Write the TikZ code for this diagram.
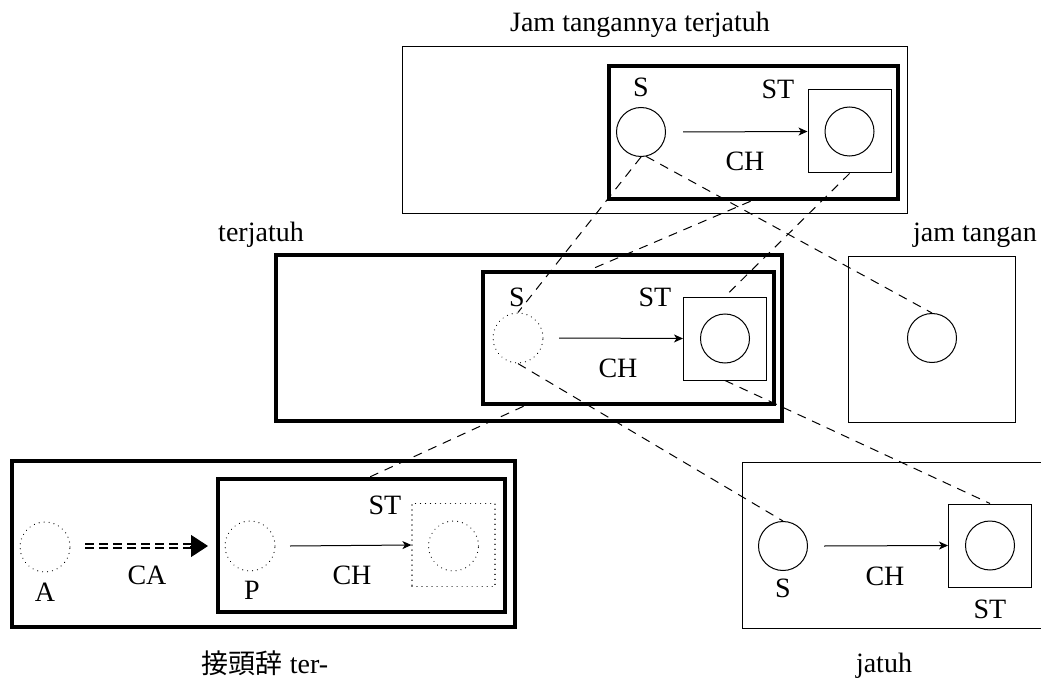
\documentclass[tikz,border=0pt]{standalone}
\usepackage{fontspec}
\setmainfont{Liberation Serif}
\newfontfamily\cjkfont{Noto Sans CJK JP}
\usetikzlibrary{arrows.meta,calc}
\begin{document}
\begin{tikzpicture}[x=1pt,y=-1pt,
  every node/.style={font=\fontsize{28}{32}\selectfont, inner sep=0pt},
  thinbox/.style={draw, line width=1pt, rectangle},
  thickbox/.style={draw, line width=4.5pt, rectangle},
  circ/.style={draw, circle, line width=1pt, minimum size=49pt},
  dcirc/.style={draw, circle, line width=1.2pt, minimum size=50pt, dash pattern=on 0.01pt off 5pt, line cap=round},
  sq/.style={draw, rectangle, line width=1pt, minimum size=83pt},
  dsq/.style={draw, rectangle, line width=1.2pt, minimum size=83pt, dash pattern=on 0.01pt off 5pt, line cap=round},
  lbl/.style={anchor=base},
  link/.style={line width=1pt, dash pattern=on 9pt off 7pt},
  arr/.style={line width=1pt, -{Stealth[length=9pt,width=8pt,inset=2.5pt]}},
]
\useasboundingbox (0,0) rectangle (1041,679);

% ---------- top block ----------
\node[lbl] (title) at (640,32) {Jam tangannya terjatuh};
\node[thinbox, minimum width=505pt, minimum height=167pt] (tOut) at (654.5,130.5) {};
\node[thickbox, minimum width=289pt, minimum height=133pt] (tIn) at (753.5,132.5) {};
\node[circ] (tS) at (641,132) {};
\node[sq] (tST) at (849.5,131.5) {};
\node[circ] (tSTc) at (849.5,131.5) {};
\node[lbl] (tSl) at (641,97) {S};
\node[lbl] (tSTl) at (778,99) {ST};
\node[lbl] (tCH) at (745,171) {CH};
\draw[arr] (683,132) -- (tST.west);

% ---------- middle block ----------
\node[lbl] (mlabel) at (261,241) {terjatuh};
\node[thickbox, minimum width=506pt, minimum height=166pt] (mOut) at (529,338) {};
\node[thickbox, minimum width=291pt, minimum height=132pt] (mIn) at (628.5,338) {};
\node[dcirc] (mS) at (518,338) {};
\node[sq] (mST) at (725,338.5) {};
\node[circ] (mSTc) at (725,338.5) {};
\node[lbl] (mSl) at (517,306) {S};
\node[lbl] (mSTl) at (655,306) {ST};
\node[lbl] (mCH) at (618,377) {CH};
\draw[arr] (559,338) -- (mST.west);

% ---------- jam tangan ----------
\node[lbl] (jtlabel) at (975,241) {jam tangan};
\node[thinbox, minimum width=167pt, minimum height=166pt] (jtBox) at (931.5,339) {};
\node[circ] (jtC) at (932,338) {};

% ---------- jatuh ----------
\node[thinbox, minimum width=303pt, minimum height=166pt] (jBox) at (893.5,545) {};
\node[circ] (jS) at (783,546) {};
\node[sq] (jST) at (990,545.5) {};
\node[circ] (jSTc) at (990,545.5) {};
\node[lbl] (jSl) at (783,597) {S};
\node[lbl] (jCH) at (885,585) {CH};
\node[lbl] (jSTl) at (990,618) {ST};
\draw[arr] (824,546) -- (jST.west);
\node[lbl] (jlabel) at (884,672) {jatuh};

% ---------- prefix ter- ----------
\node[thickbox, minimum width=503pt, minimum height=166pt] (bOut) at (263.5,544) {};
\node[thickbox, minimum width=287pt, minimum height=133pt] (bIn) at (361.5,545.5) {};
\node[dcirc] (bA) at (45,547) {};
\node[dcirc] (bP) at (250,546) {};
\node[dsq] (bST) at (453.5,545) {};
\node[dcirc] (bSTc) at (453.5,546) {};
\node[lbl] (bAl) at (45,601) {A};
\node[lbl] (bCA) at (147,584) {CA};
\node[lbl] (bPl) at (252,599) {P};
\node[lbl] (bSTl) at (385,514) {ST};
\node[lbl] (bCH) at (352,584) {CH};
\draw[arr] (290,546) -- (bST.west);
\draw[line width=6pt, dash pattern=on 9pt off 5pt] (85,546) -- (193,546);
\draw[white, line width=1.5pt] (84,546) -- (195,546);
\draw[line width=1pt, -{Triangle[length=17pt,width=22pt]}] (190,546) -- (208,546);
\node[lbl] (blabel) at (265,673) {{\cjkfont\fontsize{27}{30}\selectfont 接頭辞} ter-};

% ---------- dashed links ----------
\coordinate (tInB) at ($(tIn.south west)!0.49!(tIn.south east)$);
\coordinate (mInT) at ($(mIn.north west)!0.37!(mIn.north east)$);
\coordinate (mInB) at ($(mIn.south west)!0.145!(mIn.south east)$);
\coordinate (bInT) at ($(bIn.north west)!0.53!(bIn.north east)$);
\draw[link] (tS.south) -- (mS.north);
\draw[link] (tS.-78) -- (jtC.north);
\draw[link] (tST.south) -- (mST.north);
\draw[link] (tInB) -- (mInT);
\draw[link] (mS.south) -- (jS.north);
\draw[link] (mST.south) -- (jST.north);
\draw[link] (mInB) -- (bInT);
\end{tikzpicture}
\end{document}
